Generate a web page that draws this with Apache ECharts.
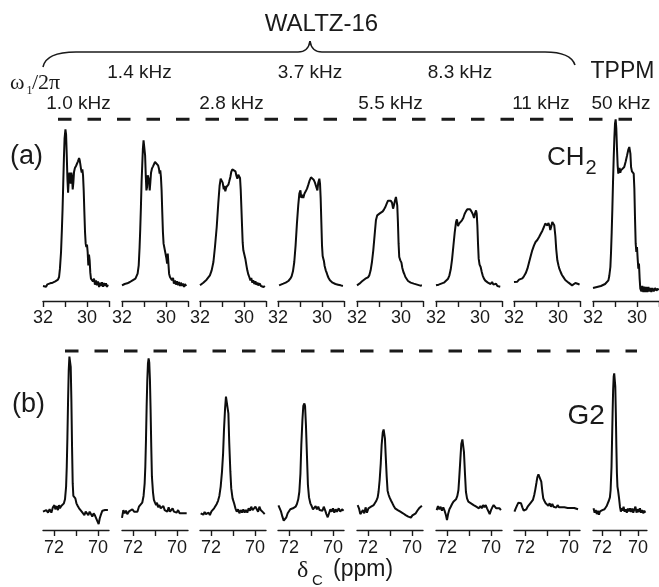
<!DOCTYPE html>
<html><head><meta charset="utf-8">
<script src="https://cdn.jsdelivr.net/npm/echarts@6/dist/echarts.min.js"></script>
<style>html,body{margin:0;padding:0;background:#fff}#c{width:659px;height:587px}</style>
</head><body><div id="c"></div>
<script>
// ---------- data (ppm, intensity in % of dashed reference) ----------
const waltzFields = ['1.0 kHz','1.4 kHz','2.8 kHz','3.7 kHz','5.5 kHz','8.3 kHz','11 kHz'];
const tppmField = '50 kHz';
const ch2Ticks = [29,30,31,32];
const ch2TickLabels = [30,32];
const g2Ticks = [70,71,72];
const g2TickLabels = [70,72];
const refLevel = 100;

const ch2_w1000 = [[32.00,0],[31.92,0.6],[31.86,-0.4],[31.80,1],[31.74,0.2],[31.68,1.6],[31.62,0.6],[31.56,2],[31.50,1.6],[31.44,2.8],[31.38,3.2],[31.32,3.8],[31.27,5.4],[31.23,10.4],[31.18,20.4],[31.14,34.4],[31.11,46.4],[31.08,61.4],[31.05,76.4],[31.02,88.4],[30.98,94],[30.95,90.8],[30.92,78.4],[30.89,64.4],[30.86,56],[30.83,63.4],[30.80,68],[30.77,65.4],[30.74,61.4],[30.71,68],[30.68,65.4],[30.65,58],[30.62,62],[30.59,68.4],[30.55,70.8],[30.50,72],[30.45,72.8],[30.41,74.8],[30.36,76.8],[30.33,75.4],[30.30,72.8],[30.27,70],[30.24,68],[30.21,70],[30.18,66.4],[30.15,57.4],[30.12,44.4],[30.09,32.4],[30.06,25.4],[30.03,23.4],[30.00,24.8],[29.97,20.4],[29.94,12.4],[29.91,18.8],[29.88,15.4],[29.85,8],[29.82,4.4],[29.77,5.4],[29.73,2.8],[29.68,4.4],[29.64,0.8],[29.59,3.4],[29.55,0.4],[29.50,2.8],[29.45,-0.6],[29.41,2],[29.36,0],[29.32,2.2],[29.27,-0.4],[29.23,1.8],[29.18,0],[29.14,1.6],[29.09,-0.6],[29.05,0.8]];
const ch2_w1400 = [[32.00,0.4],[31.94,0],[31.88,1.2],[31.82,0.2],[31.76,1.6],[31.70,0.8],[31.64,2.4],[31.58,1.8],[31.52,3.4],[31.45,2.8],[31.39,4.4],[31.33,5],[31.29,7.4],[31.24,12.4],[31.20,23.4],[31.17,34.4],[31.14,47.4],[31.11,62.4],[31.08,72.4],[31.05,82.4],[31.02,87.4],[30.98,86.4],[30.95,78.4],[30.92,66.4],[30.89,57.4],[30.86,59.4],[30.83,66.4],[30.80,67.4],[30.77,63.4],[30.74,57.4],[30.71,62.4],[30.68,68],[30.64,70.4],[30.59,71.8],[30.55,72.8],[30.50,74.4],[30.45,75.4],[30.41,74.4],[30.36,72.4],[30.32,70.4],[30.29,67.4],[30.26,69.4],[30.23,65.4],[30.20,57.4],[30.17,44.4],[30.14,32.4],[30.11,25.4],[30.08,23.4],[30.05,24.4],[30.02,22.4],[29.98,16.4],[29.95,13.4],[29.92,19.4],[29.89,13.4],[29.86,7.4],[29.82,5.4],[29.77,6.4],[29.73,3.4],[29.68,4.8],[29.64,1.4],[29.59,3.4],[29.55,0.8],[29.50,2.8],[29.45,0.4],[29.41,2.4],[29.36,0],[29.32,2],[29.27,0],[29.23,1.4],[29.18,-0.6],[29.14,1.2],[29.08,0]];
const ch2_w2800 = [[32.00,0.4],[31.92,1.4],[31.85,2],[31.77,3],[31.70,3.8],[31.62,4.8],[31.55,6.4],[31.47,9.4],[31.39,14.4],[31.32,23.4],[31.24,35.4],[31.17,49.4],[31.11,60],[31.06,64.4],[31.02,65.4],[30.97,62],[30.92,58],[30.89,60],[30.85,56.8],[30.80,59.4],[30.76,59.2],[30.71,60.8],[30.67,62.8],[30.62,65.4],[30.58,68.4],[30.53,70],[30.48,70.8],[30.44,70.4],[30.39,68.8],[30.35,66.4],[30.30,64.4],[30.26,66.8],[30.21,67.8],[30.18,64.8],[30.15,58],[30.12,47.4],[30.09,36.4],[30.06,26],[30.03,21.4],[29.98,20.4],[29.94,16.4],[29.89,12.4],[29.85,9.4],[29.80,6.8],[29.76,5.4],[29.71,3.4],[29.67,4.8],[29.62,2],[29.58,3.4],[29.53,1.2],[29.48,2.8],[29.44,0.8],[29.39,2],[29.35,0.4],[29.29,1.6],[29.23,0],[29.17,0.8],[29.11,-0.6],[29.05,0]];
const ch2_w3700 = [[31.95,0.4],[31.86,0.8],[31.76,1.4],[31.65,2],[31.53,3],[31.44,4.4],[31.38,5.8],[31.32,8.8],[31.26,14.4],[31.20,24.4],[31.14,37.4],[31.08,48.4],[31.03,55.4],[30.98,57.4],[30.94,52.8],[30.89,54.8],[30.85,52.8],[30.80,55.4],[30.74,56.8],[30.68,58.4],[30.62,60.8],[30.56,63.4],[30.50,65.2],[30.44,65],[30.38,63.8],[30.32,62],[30.26,59.4],[30.21,57.4],[30.17,62],[30.12,64.4],[30.09,61.4],[30.06,52.4],[30.03,38.4],[30.00,24.4],[29.97,18],[29.94,16.4],[29.91,14.8],[29.88,12],[29.83,9.4],[29.79,8],[29.74,6],[29.70,4.8],[29.64,3.4],[29.58,4.4],[29.52,2],[29.45,3],[29.39,1.2],[29.33,2.2],[29.27,0.8],[29.21,1.6],[29.15,0.4],[29.09,1.2],[29.05,0]];
const ch2_w5500 = [[32.00,0.4],[31.89,1.4],[31.77,2.8],[31.68,3.8],[31.62,4.4],[31.56,4],[31.50,5.2],[31.44,6.4],[31.38,9.4],[31.32,14.4],[31.26,21.4],[31.20,30.4],[31.14,39.4],[31.08,42.4],[31.03,42],[30.98,43.4],[30.94,42.4],[30.89,44.4],[30.83,44.8],[30.77,46],[30.71,47.4],[30.65,49.4],[30.59,51.2],[30.53,51.8],[30.47,51.2],[30.41,50],[30.36,46.4],[30.32,48.4],[30.27,51.4],[30.23,53.4],[30.20,52.8],[30.17,48.4],[30.14,38.4],[30.11,25.4],[30.08,17.4],[30.03,15.4],[29.98,14],[29.94,10.8],[29.89,8.4],[29.85,7.2],[29.80,5.4],[29.74,4.4],[29.68,3],[29.62,3.4],[29.56,2],[29.50,2.4],[29.42,1.4],[29.35,1.6],[29.27,0.8],[29.20,1],[29.12,0.2],[29.05,0.4]];
const ch2_w8300 = [[32.00,0.4],[31.88,0.8],[31.76,1.4],[31.64,2],[31.55,2.8],[31.45,4.4],[31.39,6.4],[31.33,10],[31.27,16],[31.21,24],[31.15,32],[31.09,38.4],[31.05,40],[31.00,36],[30.95,37.4],[30.91,38.4],[30.86,37.4],[30.82,39.4],[30.76,40.8],[30.70,43.2],[30.64,44.8],[30.58,46],[30.52,46.4],[30.45,46],[30.39,44.8],[30.33,43.2],[30.27,40.8],[30.23,43.4],[30.18,45.4],[30.15,43.4],[30.12,36.4],[30.09,25.4],[30.06,16.4],[30.02,12.8],[29.97,11.4],[29.92,8.4],[29.88,6.4],[29.82,4.4],[29.76,3.2],[29.70,3.6],[29.64,2],[29.58,2.8],[29.52,1.2],[29.45,2.4],[29.39,0.8],[29.33,1.2],[29.27,1.4],[29.21,0],[29.15,0.8],[29.08,-0.4]];
const ch2_w11000 = [[32.00,2.4],[31.92,3.2],[31.85,2.6],[31.77,3.8],[31.70,3.4],[31.62,4.6],[31.55,5.8],[31.47,7.6],[31.39,10.4],[31.32,14],[31.24,18],[31.17,21.4],[31.09,24.4],[31.02,26.4],[30.94,27.6],[30.86,29.4],[30.79,31.2],[30.71,33.2],[30.64,35.4],[30.58,37.4],[30.53,38.4],[30.48,36.4],[30.44,37.8],[30.39,36.4],[30.35,33.6],[30.30,36],[30.26,38.4],[30.21,38.8],[30.17,36.4],[30.12,30],[30.08,22],[30.03,15.4],[29.98,12.4],[29.94,10.4],[29.88,8.4],[29.82,6.6],[29.74,5],[29.67,3.6],[29.59,2.6],[29.52,2],[29.44,1],[29.36,0.4],[29.29,1],[29.21,1.8],[29.14,2.4],[29.08,1.2],[29.02,0.8]];
const ch2_tppm50 = [[32.00,-1.2],[31.91,-0.8],[31.82,-0.6],[31.73,-0.2],[31.64,0],[31.55,0.4],[31.45,1.2],[31.36,2],[31.30,3.4],[31.26,6],[31.21,11.4],[31.18,20.4],[31.15,32.4],[31.12,46.4],[31.09,62.4],[31.06,76.4],[31.03,88.4],[31.00,97.4],[30.97,100],[30.94,94.4],[30.91,82.4],[30.88,72.4],[30.85,67.4],[30.82,69.4],[30.79,70.8],[30.76,68],[30.73,69.4],[30.70,69.4],[30.64,70.4],[30.58,71.4],[30.52,74.4],[30.45,78.4],[30.39,82],[30.35,83.4],[30.30,79.4],[30.27,71.4],[30.23,68.8],[30.18,69.4],[30.15,67.4],[30.12,58.4],[30.09,40.4],[30.06,25.4],[30.03,20.4],[30.00,23.4],[29.97,16.4],[29.94,10.4],[29.91,13.4],[29.88,4.4],[29.85,-1.6],[29.80,-3.2],[29.76,0],[29.71,-3.6],[29.67,-0.4],[29.62,-3.6],[29.58,-0.6],[29.53,-3.6],[29.48,-0.6],[29.44,-3.2],[29.39,-1.2],[29.35,-3.6],[29.30,-1.2],[29.24,-3.2],[29.18,-1.2],[29.12,-2.8],[29.06,-1.6],[29.02,-2.6]];

const g2_w1000 = [[72.50,0],[72.42,-1],[72.35,1],[72.27,-0.6],[72.20,1.5],[72.12,-0.6],[72.05,2.7],[71.98,4.1],[71.94,1.5],[71.88,3.5],[71.82,1],[71.77,4.1],[71.73,2.1],[71.67,3.5],[71.61,2.3],[71.55,5.2],[71.50,7.7],[71.45,15.6],[71.42,28],[71.39,46.7],[71.36,69.5],[71.33,88.2],[71.30,96.5],[71.27,96.9],[71.24,90.2],[71.21,69.5],[71.18,40.5],[71.15,17.6],[71.12,9.8],[71.08,11],[71.03,8.3],[70.98,5.2],[70.92,3.5],[70.86,2.1],[70.80,1],[70.74,0],[70.68,-1],[70.62,-2.1],[70.56,0],[70.50,1],[70.44,-2.1],[70.38,0],[70.32,-1.5],[70.26,-3.1],[70.20,-1],[70.14,-2.3],[70.08,-3.5],[70.02,-6.2],[69.97,-7.7],[69.92,-4.1],[69.86,-1.5],[69.80,0.6],[69.74,-0.6],[69.68,1],[69.62,0.2],[69.55,1]];
const g2_w1400 = [[72.50,-3.9],[72.44,1],[72.38,-1],[72.32,0.6],[72.26,-1.5],[72.18,0.2],[72.11,-1],[72.03,1.5],[71.95,0],[71.88,1],[71.80,0],[71.73,3.1],[71.65,4.1],[71.58,5.6],[71.52,9.8],[71.47,17.6],[71.44,28],[71.41,44.6],[71.38,65.4],[71.35,82],[71.32,92.3],[71.29,95.4],[71.26,92.7],[71.23,82],[71.20,63.3],[71.17,40.5],[71.14,21.8],[71.09,11.8],[71.05,7.3],[71.00,5.6],[70.95,4.1],[70.91,5.6],[70.86,2.7],[70.80,4.1],[70.74,2.1],[70.68,1],[70.62,3.5],[70.56,1],[70.50,2.1],[70.44,0],[70.38,2.7],[70.32,0],[70.26,0.6],[70.20,2.1],[70.14,0],[70.08,1],[70.02,-0.6],[69.95,1],[69.88,-1],[69.80,0.2],[69.73,-1],[69.65,-0.2],[69.56,-1]];
const g2_w2800 = [[72.47,-1],[72.41,0.2],[72.35,-1.9],[72.29,-0.2],[72.23,-1.5],[72.17,-2.7],[72.11,-0.6],[72.05,-2.1],[71.98,0.2],[71.92,-0.6],[71.86,2.1],[71.80,3.1],[71.74,4.8],[71.68,6.8],[71.62,9.8],[71.56,15.6],[71.50,24.9],[71.45,36.3],[71.41,50.8],[71.36,64.3],[71.32,71.6],[71.29,72.8],[71.26,71.2],[71.21,61.2],[71.17,42.5],[71.12,24.9],[71.08,14.5],[71.02,8.3],[70.95,5.2],[70.89,2.1],[70.83,0],[70.77,1.5],[70.71,-1],[70.65,1],[70.59,-0.6],[70.53,1.5],[70.47,-0.6],[70.41,1],[70.35,-0.6],[70.29,2.1],[70.23,0.6],[70.17,3.1],[70.11,1],[70.05,0],[69.98,3.1],[69.92,2.7],[69.86,0],[69.80,3.1],[69.74,1],[69.68,2.1],[69.62,-0.6],[69.56,-1.5]];
const g2_w3700 = [[72.48,3.9],[72.42,3.1],[72.36,0],[72.30,-3.1],[72.24,-5.6],[72.18,-6.8],[72.12,-3.5],[72.06,-1],[72.00,0],[71.94,1.5],[71.88,0.6],[71.82,2.1],[71.76,1],[71.70,3.1],[71.64,4.8],[71.58,7.7],[71.53,12.4],[71.48,23.7],[71.44,41.5],[71.39,57.1],[71.35,65.8],[71.30,67.4],[71.27,65.8],[71.23,53.9],[71.18,33.2],[71.14,16.6],[71.09,8.9],[71.03,5.2],[70.97,3.5],[70.91,1.5],[70.85,2.7],[70.79,3.5],[70.73,1.5],[70.67,3.1],[70.61,1],[70.55,2.1],[70.48,0.6],[70.42,3.1],[70.36,1],[70.30,-1.5],[70.24,-3.5],[70.18,-1],[70.12,1.5],[70.06,0],[70.00,2.1],[69.94,-0.6],[69.88,1.5],[69.82,0],[69.74,2.1],[69.67,0],[69.59,1.5],[69.52,0.6]];
const g2_w5500 = [[72.47,4.1],[72.41,2.1],[72.35,-1.5],[72.29,-2.1],[72.23,1],[72.17,-1],[72.11,2.7],[72.05,-0.6],[71.98,2.1],[71.92,1],[71.86,3.1],[71.80,2.1],[71.74,4.1],[71.68,4.8],[71.62,6.8],[71.56,8.9],[71.52,12.4],[71.47,19.7],[71.42,30.1],[71.38,41.5],[71.33,49.2],[71.29,51.2],[71.26,50.4],[71.23,45.6],[71.20,36.3],[71.15,21.8],[71.11,13.1],[71.06,10.4],[71.02,8.9],[70.95,6.8],[70.89,5.2],[70.83,3.5],[70.77,2.1],[70.71,3.1],[70.65,1],[70.59,1.5],[70.53,0],[70.47,0.2],[70.41,-1],[70.35,-0.6],[70.29,-2.1],[70.23,-1],[70.17,-3.1],[70.11,-2.3],[70.05,-3.7],[69.98,-2.3],[69.91,-1.5],[69.83,-1],[69.76,0.6],[69.68,2.1],[69.61,3.1],[69.55,3.7]];
const g2_w8300 = [[72.47,1],[72.41,3.5],[72.35,1.5],[72.29,3.1],[72.23,0.6],[72.17,2.7],[72.11,0.6],[72.05,-2.1],[72.00,-5.2],[71.95,-1.5],[71.89,1.5],[71.83,3.1],[71.77,4.8],[71.71,6.2],[71.65,6.8],[71.59,7.7],[71.53,9.8],[71.48,13.5],[71.44,21.8],[71.39,33.2],[71.35,42.1],[71.30,45],[71.27,44.6],[71.23,37.3],[71.18,22.8],[71.14,12.4],[71.09,8.3],[71.03,6.2],[70.97,7.3],[70.91,5.2],[70.85,6.2],[70.79,4.1],[70.73,5.2],[70.67,3.1],[70.61,4.1],[70.55,2.1],[70.48,3.5],[70.42,2.1],[70.36,4.1],[70.30,2.7],[70.24,4.1],[70.18,2.1],[70.12,1],[70.06,-1.5],[70.00,1],[69.94,2.7],[69.88,4.1],[69.82,3.1],[69.76,2.1],[69.68,1],[69.61,2.1],[69.55,1]];
const g2_w11000 = [[72.48,0],[72.42,2.1],[72.36,3.9],[72.30,5.6],[72.24,6.4],[72.18,5.2],[72.12,2.7],[72.06,0.6],[72.00,0],[71.94,1.5],[71.88,3.1],[71.82,4.1],[71.76,5.2],[71.70,5.8],[71.64,7.3],[71.58,10.4],[71.53,13.9],[71.48,18],[71.44,21.4],[71.39,23.2],[71.35,23.9],[71.30,22.8],[71.26,18.7],[71.21,12.4],[71.17,8.3],[71.12,6.8],[71.06,5.2],[71.00,5.6],[70.94,3.7],[70.88,5.2],[70.82,3.1],[70.76,4.8],[70.70,3.1],[70.64,4.1],[70.58,2.5],[70.52,4.1],[70.45,2.7],[70.39,3.7],[70.33,2.7],[70.27,3.9],[70.21,2.7],[70.14,3.5],[70.06,2.3],[69.98,3.5],[69.91,2.3],[69.83,3.1],[69.76,2.3],[69.68,1.9],[69.59,1.5]];
const g2_tppm50 = [[72.47,2.1],[72.41,-0.6],[72.35,1],[72.29,-1.5],[72.23,0.6],[72.17,-1.9],[72.11,0.2],[72.05,-1],[71.98,1],[71.92,-0.2],[71.86,1.5],[71.80,2.7],[71.74,3.5],[71.68,5.2],[71.62,6.8],[71.56,8.9],[71.52,13.5],[71.47,28],[71.44,44.6],[71.41,61.2],[71.38,75.7],[71.35,84],[71.32,86.1],[71.29,85.3],[71.26,77.8],[71.23,61.2],[71.20,40.5],[71.17,23.9],[71.14,15.6],[71.11,13.5],[71.08,13.1],[71.05,8.3],[71.00,3.1],[70.95,0],[70.91,2.1],[70.86,0.6],[70.80,3.1],[70.74,0],[70.68,1.5],[70.62,-0.6],[70.56,1.9],[70.50,0.2],[70.44,2.1],[70.38,-0.2],[70.32,1.9],[70.26,-0.6],[70.20,1.5],[70.14,3.1],[70.08,-0.6],[70.02,1.5],[69.95,-0.2],[69.89,2.1],[69.83,-0.6],[69.77,1],[69.71,-1],[69.65,0.6],[69.59,-0.6]];

const ch2Spectra = [ch2_w1000, ch2_w1400, ch2_w2800, ch2_w3700, ch2_w5500, ch2_w8300, ch2_w11000, ch2_tppm50];
const g2Spectra = [g2_w1000, g2_w1400, g2_w2800, g2_w3700, g2_w5500, g2_w8300, g2_w11000, g2_tppm50];

// ---------- layout ----------
const SANS = '"Liberation Sans", Arial, Helvetica, sans-serif';
const SERIF = '"Liberation Serif", "Times New Roman", serif';
const INK = '#1a1a1a';
const colLeft = [43, 122, 200, 278, 357, 436, 514, 593];
const colW = 66;
const rows = [
  {spectra: ch2Spectra, top: 109.33, height: 191.67, ymin: -9, ymax: 106, xmin: 29, xmax: 32,
   ticks: ch2Ticks, labels: ch2TickLabels, labelMargin: 8, dashLeft: 58, dashWidth: 574},
  {spectra: g2Spectra, top: 341.37, height: 188.63, ymin: -11.4, ymax: 106, xmin: 69.5, xmax: 72.5,
   ticks: g2Ticks, labels: g2TickLabels, labelMargin: 9, dashLeft: 65, dashWidth: 572}
];

const option = {animation: false, backgroundColor: '#fff', grid: [], xAxis: [], yAxis: [], series: [], graphic: []};
rows.forEach(function (row) {
  row.spectra.forEach(function (spec, i) {
    const gi = option.grid.length;
    option.grid.push({left: colLeft[i], top: row.top, width: colW, height: row.height, containLabel: false});
    option.xAxis.push({
      gridIndex: gi, type: 'value', inverse: true, min: row.xmin, max: row.xmax,
      axisLine: {show: true, onZero: false, lineStyle: {color: INK, width: 1.4}},
      axisTick: {show: true, inside: false, length: 6, customValues: row.ticks, lineStyle: {color: INK, width: 1.4}},
      axisLabel: {show: true, customValues: row.labels, fontSize: 18, fontFamily: SANS, color: INK, margin: row.labelMargin},
      splitLine: {show: false}
    });
    option.yAxis.push({gridIndex: gi, type: 'value', min: row.ymin, max: row.ymax, show: false});
    option.series.push({
      type: 'line', xAxisIndex: gi, yAxisIndex: gi, data: spec, showSymbol: false, symbol: 'none',
      lineStyle: {color: '#0d0d0d', width: 2}, silent: true, z: 3
    });
  });
  const gd = option.grid.length;
  option.grid.push({left: row.dashLeft, top: row.top, width: row.dashWidth, height: row.height});
  option.xAxis.push({gridIndex: gd, type: 'value', min: 0, max: 1, show: false});
  option.yAxis.push({gridIndex: gd, type: 'value', min: row.ymin, max: row.ymax, show: false});
  option.series.push({
    type: 'line', xAxisIndex: gd, yAxisIndex: gd, data: [[0, refLevel], [1, refLevel]],
    showSymbol: false, symbol: 'none', silent: true,
    lineStyle: {color: INK, width: 3, type: [13.5, 16]}
  });
});

function txt(text, x, y, size, opts) {
  opts = opts || {};
  return {type: 'text', x: x, y: y, silent: true, z: 10,
    style: {text: text, fontSize: size, fontFamily: opts.family || SANS, fill: INK,
      textAlign: opts.align || 'center', textVerticalAlign: 'middle'}};
}
const braceStyle = {stroke: INK, lineWidth: 1.6, fill: null};
function bez(x1, y1, c1x, c1y, c2x, c2y, x2, y2) {
  return {type: 'bezierCurve', silent: true, shape: {x1: x1, y1: y1, cpx1: c1x, cpy1: c1y, cpx2: c2x, cpy2: c2y, x2: x2, y2: y2}, style: braceStyle};
}
function seg(x1, y1, x2, y2) {
  return {type: 'line', silent: true, shape: {x1: x1, y1: y1, x2: x2, y2: y2}, style: braceStyle};
}
// brace over the WALTZ-16 columns
option.graphic.push(bez(43, 67, 45, 57, 55, 52, 76, 52));
option.graphic.push(seg(76, 52, 298, 52));
option.graphic.push(bez(298, 52, 305, 52, 309, 48, 310, 41));
option.graphic.push(bez(310, 41, 311, 48, 315, 52, 322, 52));
option.graphic.push(seg(322, 52, 545, 52));
option.graphic.push(bez(545, 52, 562, 52, 572, 56, 575, 65));
option.graphic.push(txt('WALTZ-16', 321.5, 24, 24));
option.graphic.push(txt('TPPM', 622.5, 71.5, 23));
const upperX = [139.5, 310, 460];
const lowerX = [78.5, 231.5, 390.5, 541];
[waltzFields[1], waltzFields[3], waltzFields[5]].forEach(function (t, k) { option.graphic.push(txt(t, upperX[k], 72.5, 19)); });
[waltzFields[0], waltzFields[2], waltzFields[4], waltzFields[6]].forEach(function (t, k) { option.graphic.push(txt(t, lowerX[k], 103.5, 19)); });
option.graphic.push(txt(tppmField, 621, 103.5, 19));
option.graphic.push(txt('ω', 10, 83.6, 22, {family: SERIF, align: 'left'}));
option.graphic.push(txt('1', 26.5, 91, 12, {family: SERIF, align: 'left'}));
option.graphic.push(txt('/2π', 32, 83.6, 22, {family: SERIF, align: 'left'}));
option.graphic.push(txt('(a)', 10, 156.7, 27, {align: 'left'}));
option.graphic.push(txt('(b)', 12, 404.7, 27, {align: 'left'}));
option.graphic.push(txt('CH', 547, 157.8, 26, {align: 'left'}));
option.graphic.push(txt('2', 585.5, 168, 20, {align: 'left'}));
option.graphic.push(txt('G2', 567.5, 416, 28, {align: 'left'}));
option.graphic.push(txt('δ', 297, 571, 24, {family: SERIF, align: 'left'}));
option.graphic.push(txt('C', 312, 580.5, 15, {align: 'left'}));
option.graphic.push(txt('(ppm)', 333, 570, 23, {align: 'left'}));

const chart = echarts.init(document.getElementById('c'), null, {renderer: 'canvas'});
chart.setOption(option);
</script>
</body></html>
